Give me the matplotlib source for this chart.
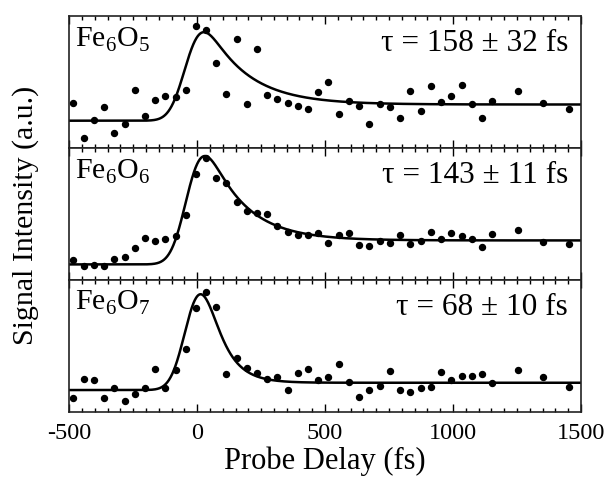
import math
import numpy as np
import matplotlib
matplotlib.use("Agg")
from matplotlib import pyplot as plt
from matplotlib.ticker import MultipleLocator

plt.rcParams['font.family'] = ['Liberation Serif', 'DejaVu Serif']
plt.rcParams['mathtext.fontset'] = 'custom'
plt.rcParams['mathtext.rm'] = 'Liberation Serif'
plt.rcParams['axes.unicode_minus'] = False

# delays (fs) of the measured points, same grid for all three clusters
delay = [-484, -444, -404, -363, -323, -282, -242, -204, -164, -124, -83, -45,
         -5, 34, 74, 114, 155, 195, 234, 273, 314, 354, 393, 434, 474, 513,
         553, 595, 634, 673, 714, 753, 793, 833, 874, 914, 954, 993, 1034,
         1074, 1114, 1153, 1253, 1353, 1453]

# signal (a.u.)
sig_fe6o5 = [45, 10, 28, 41, 15, 24, 58, 32, 48, 52, 51, 58,
             122, 118, 85, 54, 109, 44, 99, 53, 49, 45, 42, 39, 56, 66,
             34, 47, 42, 24, 44, 41, 30, 57, 37, 62, 46, 52, 63,
             44, 30, 47, 57, 45, 39]
sig_fe6o6 = [20, 14, 15, 14, 21, 23, 32, 42, 39, 41, 44, 65,
             106, 122, 102, 97, 78, 69, 67, 66, 54, 48, 45, 45, 47, 37,
             45, 47, 35, 34, 39, 37, 45, 36, 39, 48, 41, 47, 44,
             41, 33, 46, 50, 38, 36]
sig_fe6o7 = [14, 33, 32, 14, 24, 11, 18, 24, 43, 24, 42, 63,
             104, 120, 105, 38, 54, 44, 39, 33, 35, 22, 39, 43, 32, 35,
             48, 30, 15, 22, 26, 41, 22, 20, 24, 25, 40, 32, 36,
             36, 38, 29, 42, 35, 25]

labels = ["Fe$_6$O$_5$", "Fe$_6$O$_6$", "Fe$_6$O$_7$"]
taus = ["τ = 158 ± 32 fs", "τ = 143 ± 11 fs", "τ = 68 ± 10 fs"]

# fit parameters: tau, sigma, t0, baseline, step, amplitude
fits = [(158, 50, -40, 27.5, 16.2, 74),
        (143, 50, -35, 15.7, 24.0, 87),
        (68, 50, -30, 22.0, 7.3, 90)]

erf = np.vectorize(math.erf)
erfc = np.vectorize(math.erfc)
t = np.linspace(-500, 1500, 2001)


def fit_curve(tau, s, t0, base, step, amp):
    x = t - t0
    stp = 0.5 * (1 + erf(x / (math.sqrt(2) * s)))
    emg = np.exp(s**2 / (2 * tau**2) - x / tau) * erfc((s / tau - x / s) / math.sqrt(2))
    return base + step * stp + amp * emg / emg.max()


data = [sig_fe6o5, sig_fe6o6, sig_fe6o7]

fig, axes = plt.subplots(3, 1, sharex=True, figsize=(6.07, 4.78), dpi=100)
fig.subplots_adjust(left=0.114, right=0.957, top=0.966, bottom=0.138, hspace=0)

for ax, y, lab, tt, p in zip(axes, data, labels, taus, fits):
    ax.plot(t, fit_curve(*p), color='black', lw=1.8)
    ax.plot(delay, y, 'o', color='black', ms=4.3)
    ax.set_xlim(-500, 1500)
    ax.set_ylim(0, 132)
    ax.set_yticks([])
    ax.xaxis.set_major_locator(MultipleLocator(500))
    ax.xaxis.set_minor_locator(MultipleLocator(50))
    ax.tick_params(axis='x', which='major', direction='in', top=True, length=6, width=1)
    ax.tick_params(axis='x', which='minor', direction='in', top=True, length=3, width=1)
    ax.text(0.012, 0.93, lab, transform=ax.transAxes, fontsize=21.5, va='top', ha='left')
    ax.text(0.975, 0.9, tt, transform=ax.transAxes, fontsize=22.5, va='top', ha='right')
    for sp in ax.spines.values():
        sp.set_linewidth(1.2)
        sp.set_color('#222222')

axes[-1].tick_params(axis='x', labelsize=17.5, pad=8)
axes[-1].set_xlabel("Probe Delay (fs)", fontsize=22, labelpad=2)
fig.text(0.042, 0.55, "Signal Intensity (a.u.)", rotation=90, fontsize=21.5,
         va='center', ha='center')

fig.savefig("out.png", dpi=100)
